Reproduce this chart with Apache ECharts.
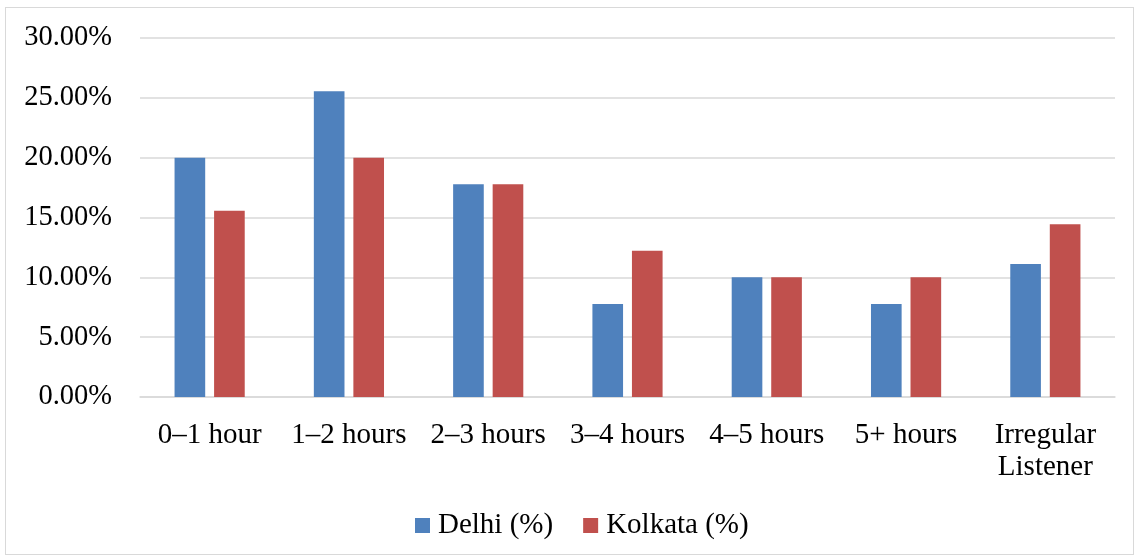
<!DOCTYPE html>
<html>
<head>
<meta charset="utf-8">
<script src="https://cdn.jsdelivr.net/npm/echarts@6/dist/echarts.min.js"></script>
<style>
html,body{margin:0;padding:0;background:#fff;}
#frame{position:absolute;left:5px;top:7px;width:1129px;height:548px;border:1px solid #D9D9D9;box-sizing:border-box;}
#chart{position:absolute;left:0;top:0;width:1137px;height:558px;}
</style>
</head>
<body>
<div id="frame"></div>
<div id="chart"></div>
<script>
const categories = ['0–1 hour', '1–2 hours', '2–3 hours', '3–4 hours', '4–5 hours', '5+ hours', 'Irregular\nListener'];
const delhi = [20.00, 25.56, 17.78, 7.78, 10.00, 7.78, 11.11];
const kolkata = [15.56, 20.00, 17.78, 12.22, 10.00, 10.00, 14.44];
const seriesNames = ['Delhi (%)', 'Kolkata (%)'];

const font = '"Liberation Serif", "Times New Roman", serif';
const chart = echarts.init(document.getElementById('chart'));
chart.setOption({
  animation: false,
  textStyle: {fontFamily: font},
  grid: {left: 140, right: 22, top: 38, bottom: 161, containLabel: false},
  legend: {
    data: seriesNames,
    top: 506,
    left: 410,
    itemWidth: 15, itemHeight: 15, itemGap: 30,
    icon: 'rect',
    textStyle: {fontFamily: font, fontSize: 29, color: '#000', padding: [0, 0, 0, 3]}
  },
  xAxis: {
    type: 'category',
    data: categories,
    axisLine: {lineStyle: {color: '#D9D9D9', width: 1.5}},
    axisTick: {show: false},
    axisLabel: {fontFamily: font, fontSize: 29, color: '#000', margin: 22, lineHeight: 32, interval: 0}
  },
  yAxis: {
    type: 'value',
    min: 0, max: 30, interval: 5,
    axisLine: {show: false},
    axisTick: {show: false},
    splitLine: {lineStyle: {color: '#D9D9D9', width: 1.5}},
    axisLabel: {fontFamily: font, fontSize: 28.5, color: '#000', margin: 28,
      formatter: v => v.toFixed(2) + '%'}
  },
  series: [
    {name: seriesNames[0], type: 'bar', data: delhi, barWidth: '22%', barGap: '29%',
      itemStyle: {color: '#4F81BD'}},
    {name: seriesNames[1], type: 'bar', data: kolkata, barWidth: '22%',
      itemStyle: {color: '#C0504D'}}
  ]
});
</script>
</body>
</html>
